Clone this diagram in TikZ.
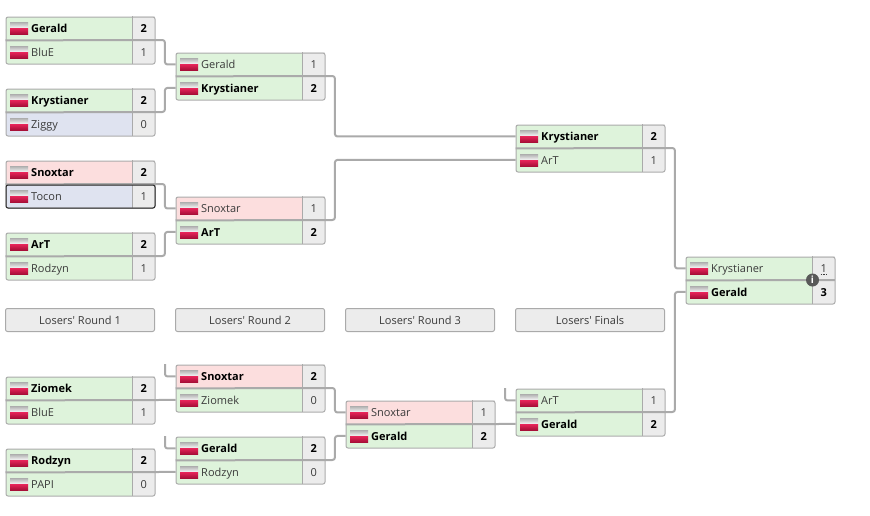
\documentclass[tikz,border=0pt]{standalone}
\usepackage{fontspec}
\setmainfont{Open Sans}
\definecolor{wingreen}{HTML}{DEF3DB}
\definecolor{lossred}{HTML}{FCDEDE}
\definecolor{seedblue}{HTML}{DFE3F0}
\definecolor{scoregray}{HTML}{ECECEC}
\definecolor{linegray}{HTML}{AAAAAA}
\definecolor{textgray}{HTML}{3A3A3A}
\definecolor{flagred}{HTML}{E8255A}
\definecolor{flagdark}{HTML}{A80F38}
\tikzset{
	rowbox/.style={minimum width=127pt, minimum height=23.5pt, inner sep=0pt, anchor=north west},
	scorebox/.style={fill=scoregray, minimum width=22pt, minimum height=24pt, inner sep=0pt, anchor=north west, text=textgray, text height=8pt, text depth=0pt, font=\fontsize{11}{13}\selectfont},
	nametext/.style={anchor=west, inner sep=0pt, text=textgray, text height=8pt, text depth=0pt, font=\fontsize{11}{13}\selectfont},
	framebox/.style={draw=linegray, line width=1pt, rounded corners=2pt, minimum width=149pt, minimum height=47pt, inner sep=0pt, anchor=north west},
	roundbox/.style={draw=linegray, line width=1pt, fill=scoregray, rounded corners=2pt, minimum width=149pt, minimum height=23pt, inner sep=0pt, text=textgray, text height=8pt, text depth=0pt, font=\fontsize{11}{13}\selectfont},
	conn/.style={draw=linegray, line width=2pt, rounded corners=2.5pt},
	flagtop/.style={top color=black!32, bottom color=black!3},
	flagbot/.style={top color=flagred, bottom color=flagdark}
}
\newcommand{\win}[1]{\textbf{\textcolor{black}{#1}}}
% one flag, x and y of its top left corner
\newcommand{\plflag}[2]{
	\shade[flagtop] (#1,#2) rectangle (#1+18,#2+6);
	\shade[flagbot] (#1,#2+6) rectangle (#1+18,#2+12);
}
% id, x, y, then fill, name, score of the upper and of the lower row
\newcommand{\matchbox}[9]{
	\node[rowbox, fill=#4] (#1T) at (#2+.5,#3+.5) {};
	\node[rowbox, fill=#7] (#1B) at (#2+.5,#3+24) {};
	\node[scorebox] (#1Ts) at (#2+127.5,#3) {#6};
	\node[scorebox] (#1Bs) at (#2+127.5,#3+24) {#9};
	\plflag{#2+5}{#3+6}
	\plflag{#2+5}{#3+30}
	\node[nametext] (#1Tn) at (#2+26,#3+12) {#5};
	\node[nametext] (#1Bn) at (#2+26,#3+36) {#8};
	\draw[linegray, line width=1pt] (#1Ts.north west) -- (#1Bs.south west);
	\node[framebox] (#1) at (#2+.5,#3+.5) {};
	\draw[linegray, line width=2pt] (#1T.south west) -- (#1Bs.north east);
}
\begin{document}
\begin{tikzpicture}[x=1pt, y=-1pt, line join=round]
	\useasboundingbox (0,0) rectangle (870,515);
	\matchbox{ra}{5}{16}{wingreen}{\win{Gerald}}{\win{2}}{wingreen}{BluE}{1}
	\matchbox{rb}{5}{88}{wingreen}{\win{Krystianer}}{\win{2}}{seedblue}{Ziggy}{0}
	\matchbox{rc}{5}{160}{lossred}{\win{Snoxtar}}{\win{2}}{seedblue}{Tocon}{1}
	\matchbox{rd}{5}{232}{wingreen}{\win{ArT}}{\win{2}}{wingreen}{Rodzyn}{1}
	\matchbox{re}{5}{376}{wingreen}{\win{Ziomek}}{\win{2}}{wingreen}{BluE}{1}
	\matchbox{rf}{5}{448}{wingreen}{\win{Rodzyn}}{\win{2}}{wingreen}{PAPI}{0}
	\matchbox{sa}{175}{52}{wingreen}{Gerald}{1}{wingreen}{\win{Krystianer}}{\win{2}}
	\matchbox{sb}{175}{196}{lossred}{Snoxtar}{1}{wingreen}{\win{ArT}}{\win{2}}
	\matchbox{sc}{175}{364}{lossred}{\win{Snoxtar}}{\win{2}}{wingreen}{Ziomek}{0}
	\matchbox{sd}{175}{436}{wingreen}{\win{Gerald}}{\win{2}}{wingreen}{Rodzyn}{0}
	\matchbox{ta}{345}{400}{lossred}{Snoxtar}{1}{wingreen}{\win{Gerald}}{\win{2}}
	\matchbox{fa}{515}{124}{wingreen}{\win{Krystianer}}{\win{2}}{wingreen}{ArT}{1}
	\matchbox{fb}{515}{388}{wingreen}{ArT}{1}{wingreen}{\win{Gerald}}{\win{2}}
	\matchbox{gf}{685}{256}{wingreen}{Krystianer}{1}{wingreen}{\win{Gerald}}{\win{3}}
	% the hovered player
	\node[framebox, draw=black!85, minimum height=23pt] (hover) at (5.5,184.5) {};
	% round titles
	\node[roundbox] (lra) at (80,320) {Losers\textquotesingle{} Round 1};
	\node[roundbox] (lrb) at (250,320) {Losers\textquotesingle{} Round 2};
	\node[roundbox] (lrc) at (420,320) {Losers\textquotesingle{} Round 3};
	\node[roundbox] (lrd) at (590,320) {Losers\textquotesingle{} Finals};
	% connectors
	\draw[conn] (raBs.north east) -- ++(10,0) |- (saT.west);
	\draw[conn] (rbBs.north east) -- ++(10,0) |- (saB.west);
	\draw[conn] (rcBs.north east) -- ++(10,0) |- (sbT.west);
	\draw[conn] (rdBs.north east) -- ++(10,0) |- (sbB.west);
	\draw[conn] (saBs.north east) -- ++(10,0) |- (faT.west);
	\draw[conn] (sbBs.north east) -- ++(10,0) |- (faB.west);
	\draw[conn] (faBs.north east) -- ++(10,0) |- (gfT.west);
	\draw[conn] (fbBs.north east) -- ++(10,0) |- (gfB.west);
	\draw[conn] (reBs.north east) -- (scB.west);
	\draw[conn] (rfBs.north east) -- (sdB.west);
	\draw[conn] (scBs.north east) -- ++(10,0) |- (taT.west);
	\draw[conn] (sdBs.north east) -- ++(10,0) |- (taB.west);
	\draw[conn] (taBs.north east) -- (fbB.west);
	% drops from the upper bracket
	\coordinate (dropc) at (165,364);
	\coordinate (dropd) at (165,436);
	\coordinate (dropb) at (505,388);
	\draw[conn] (dropc) |- (scT.west);
	\draw[conn] (dropd) |- (sdT.west);
	\draw[conn] (dropb) |- (fbT.west);
	% match info
	\draw[textgray, densely dotted, line width=.8pt] ([xshift=-3pt,yshift=-6pt]gfTs.center) -- ++(6.5,0);
	\node[circle, fill=black!65, text=white, minimum size=13pt, inner sep=0pt, font=\fontsize{10}{10}\selectfont\bfseries] (info) at (812.5,280) {i};
\end{tikzpicture}
\end{document}
